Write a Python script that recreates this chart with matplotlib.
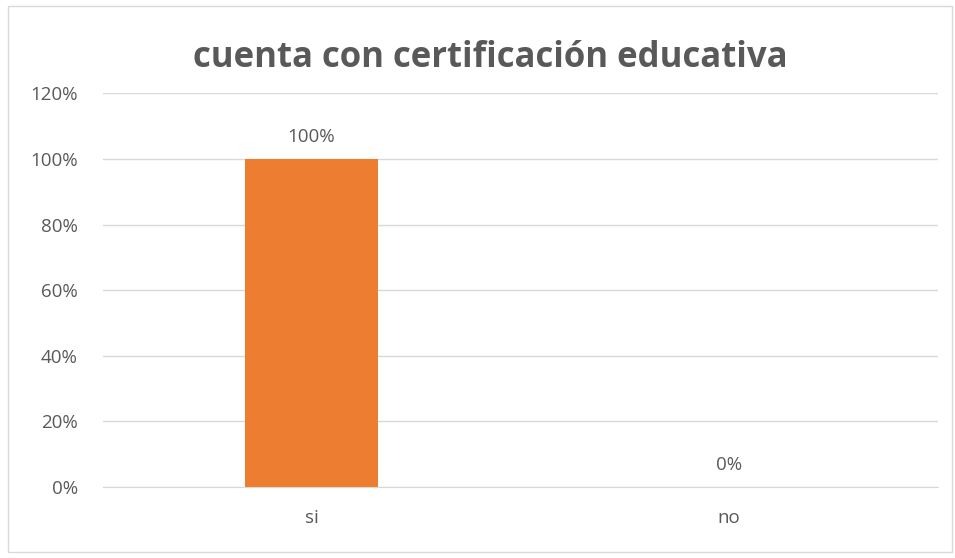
import numpy as np
import matplotlib
matplotlib.use("Agg")
import matplotlib.pyplot as plt
from matplotlib.patches import Rectangle

#========= Data ===========
categories = ["si", "no"]
values = [100, 0]
yticks = [0, 20, 40, 60, 80, 100, 120]
title = "cuenta con certificación educativa"

#========= Style ===========
plt.rcParams['font.family'] = ['Open Sans', 'DejaVu Sans']
txt_col = "#595959"
bar_col = "#ED7D31"
grid_col = "#D9D9D9"

fig = plt.figure(figsize=(9.55, 5.58), dpi=100)
ax = fig.add_axes([0.1075, 0.127, 0.8745, 0.706])

# chart border
fig.patches.append(Rectangle((8/955, 6/558), 944/955, 546/558, transform=fig.transFigure,
                             fill=False, edgecolor="#D9D9D9", linewidth=1.0))

x = np.arange(len(categories))
ax.bar(x, values, width=0.317, color=bar_col, zorder=3)

# value labels above bars
for xi, v in zip(x, values):
    ax.annotate("%d%%" % v, (xi, v), xytext=(0, 12.2), textcoords="offset points",
                ha="center", va="baseline", fontsize=13.5, color=txt_col)

ax.set_xlim(-0.5, len(categories) - 0.5)
ax.set_ylim(0, 120)
ax.set_yticks(yticks)
ax.set_yticklabels(["%d%%" % t for t in yticks])
ax.set_xticks(x)
ax.set_xticklabels(categories)
ax.tick_params(axis="both", length=0, labelsize=13.5, labelcolor=txt_col)
ax.tick_params(axis="y", pad=18)
ax.tick_params(axis="x", pad=16)

ax.grid(axis="y", color=grid_col, linewidth=1.0, zorder=0)
for s in ["top", "right", "left"]:
    ax.spines[s].set_visible(False)
ax.spines["bottom"].set_color(grid_col)

fig.text(0.513, 0.880, title, ha="center", va="baseline", fontsize=25,
         fontweight="bold", color=txt_col)

fig.savefig("out.png", dpi=100)
